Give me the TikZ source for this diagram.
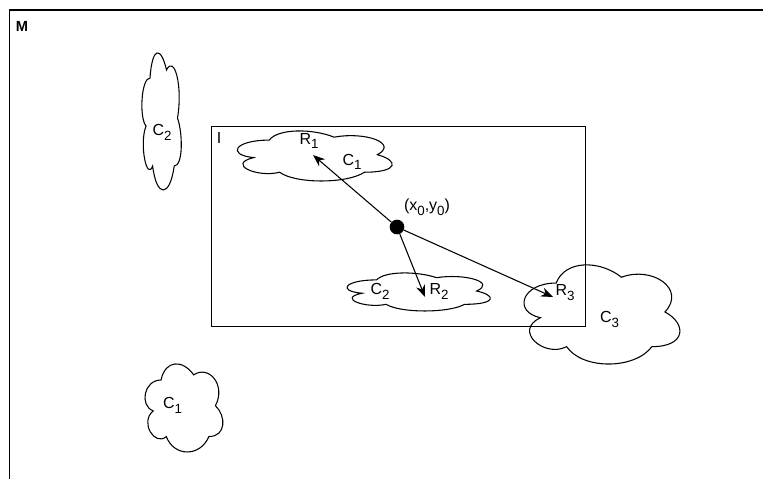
\documentclass[tikz,border=0pt]{standalone}
\usepackage{fontspec}
\setmainfont{Liberation Sans}
\usetikzlibrary{arrows.meta}
\newcommand{\sbt}[1]{\raisebox{-0.3em}{\fontsize{10pt}{10pt}\selectfont #1}}
\newcommand{\mxcloud}[4]{%
  \begin{scope}[shift={(#1,#2)},xscale=#3,yscale=#4]
    \draw[cloudline] (0.25,0.25) .. controls (0.05,0.25) and (0,0.5) .. (0.16,0.55)
      .. controls (0,0.66) and (0.18,0.9) .. (0.31,0.8)
      .. controls (0.4,1) and (0.7,1) .. (0.8,0.8)
      .. controls (1,0.8) and (1,0.6) .. (0.875,0.5)
      .. controls (1,0.3) and (0.8,0.1) .. (0.625,0.2)
      .. controls (0.5,0.05) and (0.3,0.05) .. (0.25,0.25) -- cycle;
  \end{scope}}
\begin{document}
\begin{tikzpicture}[x=0.75pt,y=-0.75pt,
  lbl/.style={inner sep=0pt,font=\fontsize{12pt}{13pt}\selectfont},
  cloudline/.style={line width=0.8pt,black},
  frameline/.style={line width=0.8pt,black},
  arr/.style={-{Stealth[length=9pt,width=7pt]},line width=0.8pt}]
\useasboundingbox (0,0) rectangle (763,479);
% outer frame M (cropped)
\draw[frameline] (9.5,479) -- (9.5,10) -- (763,10);
\node[lbl,font=\fontsize{11pt}{12pt}\selectfont\bfseries] (mlab) at (22,26) {M};
% inner rectangle I
\node[draw,frameline,minimum width=280.5pt,minimum height=150pt,inner sep=0pt,anchor=north west] (irect) at (211,126) {};
\node[lbl] (ilab) at (219,138) {I};
% clouds
\mxcloud{139}{38}{44}{160}
\mxcloud{226}{125.5}{173}{58.4}
\mxcloud{336.6}{268.8}{160}{44.4}
\mxcloud{512.7}{254.1}{174}{115.7}
\mxcloud{139.3}{354.3}{87}{102.8}
% labels
\node[lbl] (c2a) at (162,132.5) {C\sbt{2}};
\node[lbl] (c1a) at (352,162) {C\sbt{1}};
\node[lbl] (r1) at (309,141) {R\sbt{1}};
\node[lbl] (c2b) at (380,291.5) {C\sbt{2}};
\node[lbl] (r2) at (439,291.5) {R\sbt{2}};
\node[lbl] (r3) at (565,292.5) {R\sbt{3}};
\node[lbl] (c3) at (609.5,319.5) {C\sbt{3}};
\node[lbl] (c1b) at (172.5,405.5) {C\sbt{1}};
\node[lbl] (xy) at (427,207) {(x\sbt{0},y\sbt{0})};
% point and arrows
\node[circle,fill=black,inner sep=0pt,minimum size=11pt] (o) at (397,227) {};
\coordinate (t1) at (313,155);
\coordinate (t2) at (425,297);
\coordinate (t3) at (553,297);
\draw[arr] (o) -- (t1);
\draw[arr] (o) -- (t2);
\draw[arr] (o) -- (t3);
\end{tikzpicture}
\end{document}
